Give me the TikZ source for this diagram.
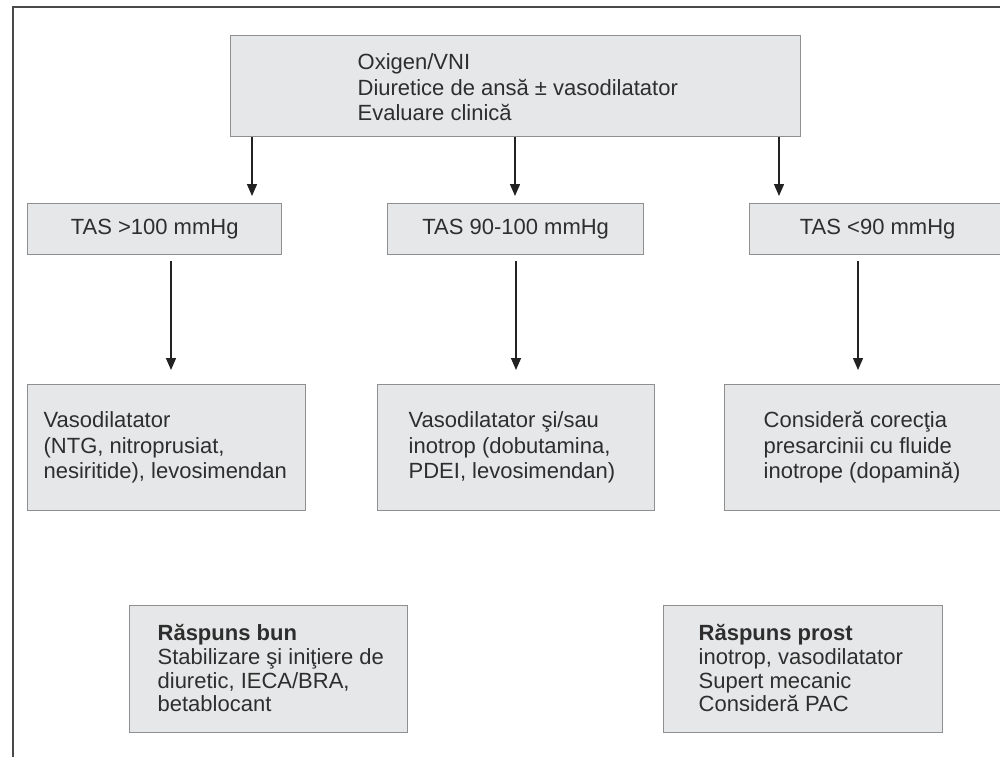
\documentclass[tikz,border=0pt]{standalone}
\usepackage{fontspec}
\setmainfont{Liberation Sans}
\usetikzlibrary{arrows.meta}
\definecolor{boxfill}{HTML}{E6E7E8}
\definecolor{boxline}{HTML}{8F8F8F}
\definecolor{txtc}{HTML}{2E2E2E}
\definecolor{arrowc}{HTML}{222222}
\definecolor{framec}{HTML}{4A4A4A}
\newcommand\btxt[6]{\parbox[t][#2][t]{#1}{\raggedright\leftskip=#3\relax\baselineskip=#5\relax\rule{0pt}{#4}#6}}
\begin{document}
\begin{tikzpicture}[x=1pt,y=-1pt,
  box/.style={draw=boxline, fill=boxfill, line width=1.3pt, inner sep=0pt, anchor=north west, text=txtc, font=\fontsize{22}{26}\selectfont},
  arr/.style={draw=arrowc, line width=1.4pt, -{Triangle[width=10pt,length=12pt]}}]
\clip (0,0) rectangle (1000,756);
\fill[white] (0,0) rectangle (1000,756);
\draw[framec, line width=2pt] (13,770) -- (13,7) -- (1010,7);

\node[box, minimum width=570pt, minimum height=101pt] (top) at (230,35)
  {\btxt{570pt}{101pt}{127pt}{34pt}{25.5pt}{Oxigen/VNI\par Diuretice de ansă ± vasodilatator\par Evaluare clinică}};

\node[box, minimum width=254pt, minimum height=51pt] (s1) at (27,203) {TAS >100 mmHg};
\node[box, minimum width=256pt, minimum height=51pt] (s2) at (387,203) {TAS 90-100 mmHg};
\node[box, minimum width=256pt, minimum height=51pt] (s3) at (749,203) {TAS <90 mmHg};

\node[box, minimum width=278pt, minimum height=126pt] (v1) at (27,384)
  {\btxt{278pt}{126pt}{16pt}{43pt}{25.5pt}{Vasodilatator\par (NTG, nitroprusiat,\par nesiritide), levosimendan}};
\node[box, minimum width=277pt, minimum height=126pt] (v2) at (377,384)
  {\btxt{277pt}{126pt}{31pt}{43pt}{25.5pt}{Vasodilatator şi/sau\par inotrop (dobutamina,\par PDEI, levosimendan)}};
\node[box, minimum width=280pt, minimum height=126pt] (v3) at (724,384)
  {\btxt{280pt}{126pt}{39pt}{43pt}{25.5pt}{Consideră corecţia\par presarcinii cu fluide\par inotrope (dopamină)}};

\node[box, minimum width=278pt, minimum height=127pt] (b1) at (129,605)
  {\btxt{278pt}{127pt}{28pt}{35pt}{23.7pt}{\textbf{Răspuns bun}\par Stabilizare şi iniţiere de\par diuretic, IECA/BRA,\par betablocant}};
\node[box, minimum width=279pt, minimum height=127pt] (b2) at (663,605)
  {\btxt{279pt}{127pt}{35pt}{35pt}{23.7pt}{\textbf{Răspuns prost}\par inotrop, vasodilatator\par Supert mecanic\par Consideră PAC}};

\coordinate (c1) at (252,0);
\coordinate (c2) at (515,0);
\coordinate (c3) at (779,0);
\draw[arr, shorten >=7pt] (top.south -| c1) -- (s1.north -| c1);
\draw[arr, shorten >=7pt] (top.south -| c2) -- (s2.north -| c2);
\draw[arr, shorten >=7pt] (top.south -| c3) -- (s3.north -| c3);

\coordinate (d1) at (171,0);
\coordinate (d2) at (516,0);
\coordinate (d3) at (858,0);
\draw[arr, shorten <=6pt, shorten >=14pt] (s1.south -| d1) -- (v1.north -| d1);
\draw[arr, shorten <=6pt, shorten >=14pt] (s2.south -| d2) -- (v2.north -| d2);
\draw[arr, shorten <=6pt, shorten >=14pt] (s3.south -| d3) -- (v3.north -| d3);
\end{tikzpicture}
\end{document}
